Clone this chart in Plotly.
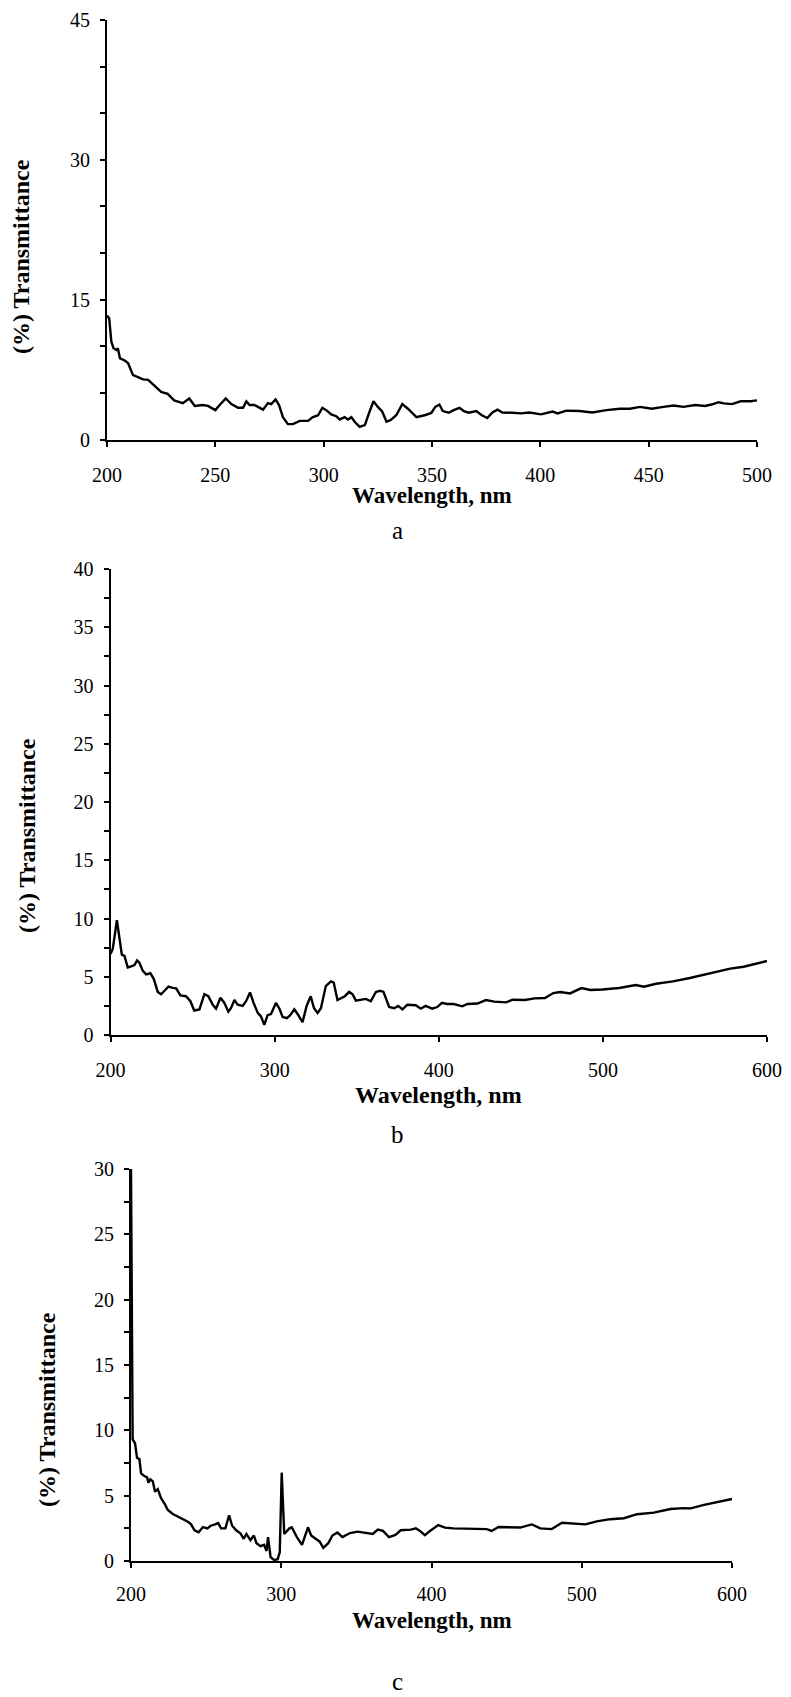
import plotly.graph_objects as go

# ---------------- data ----------------
wl_a = [200, 201, 202, 203, 204.3, 205, 206, 208, 209.7, 212, 214.3, 216.6, 219, 222, 225, 228,
        231, 235, 238, 240.5, 244, 246.6, 250, 252, 254.8, 257.4, 260.5, 262.8, 264.3, 265.8,
        268, 269.7, 272, 274.3, 275.8, 277.8, 279.4, 281.2, 283.5, 285.8, 289, 292.8, 295, 297.4,
        299.4, 301.2, 303.5, 305.8, 307.4, 309.7, 311.2, 312.8, 314.3, 316.6, 319, 321.2, 323,
        325, 327, 329, 331, 333.5, 336.3, 338.9, 341.2, 342.8, 346.6, 349.7, 351.5, 353.4, 355,
        357.7, 360, 362.7, 364.7, 367, 370.4, 373, 375.5, 377.9, 380.2, 382.5, 387, 391, 395,
        400.3, 405.7, 408, 412, 418, 424, 430.5, 436.7, 441.3, 446, 451.4, 456.8, 461.5, 466,
        471.5, 476, 479, 482.3, 484.7, 488.5, 492.4, 497, 500]
t_a = [13.3, 13.0, 10.5, 9.8, 9.6, 9.8, 8.7, 8.5, 8.2, 6.9, 6.7, 6.45, 6.4, 5.7, 5.1, 4.9,
       4.2, 3.9, 4.4, 3.6, 3.7, 3.6, 3.15, 3.7, 4.4, 3.8, 3.4, 3.4, 4.1, 3.7,
       3.7, 3.5, 3.2, 3.9, 3.8, 4.3, 3.7, 2.4, 1.65, 1.65, 2.0, 2.0, 2.4, 2.6,
       3.4, 3.15, 2.7, 2.5, 2.15, 2.4, 2.15, 2.4, 1.9, 1.35, 1.55, 3.0, 4.1,
       3.5, 3.0, 1.9, 2.1, 2.6, 3.8, 3.3, 2.8, 2.4, 2.6, 2.85, 3.5, 3.75, 3.05,
       2.87, 3.15, 3.4, 3.05, 2.87, 3.05, 2.6, 2.3, 2.9, 3.2, 2.9, 2.87, 2.8, 2.9,
       2.7, 3.0, 2.8, 3.1, 3.05, 2.9, 3.15, 3.3, 3.3, 3.5, 3.3, 3.5, 3.65, 3.5,
       3.7, 3.6, 3.75, 4.0, 3.87, 3.8, 4.1, 4.1, 4.2]

wl_b = [200, 201.4, 203.9, 205.5, 206.9, 208.5, 210.5, 212.6, 214.6, 216.2, 217.6, 219.7, 221.7,
        224.3, 226.4, 228.8, 230.8, 232.9, 235.3, 237.9, 240, 242.6, 246, 248.7, 251, 254.2,
        257.2, 259.6, 262.3, 264.3, 267, 269.4, 271.8, 273.4, 275.5, 277.5, 280.5, 282.6, 285,
        287.2, 289.7, 291.7, 293.7, 295.7, 297.8, 300.8, 302.8, 304.9, 307.5, 309.5, 312, 314,
        317, 319.5, 322, 324, 326.2, 328.2, 331.2, 334.3, 336, 338.3, 340.8, 342.8, 345.4,
        347.5, 349.5, 352.5, 355.6, 358.6, 361.7, 364.3, 366.3, 369.8, 372.8, 375.3, 377.9,
        380.9, 384, 386, 389, 392, 396, 399, 402, 405, 409, 414.4, 417.5, 423.6, 428.7, 433.9,
        441, 445, 452.4, 458.5, 464.7, 469.8, 474, 480, 486.9, 492.4, 499.6, 509.9, 520, 525,
        532.4, 542.7, 553, 563, 571.5, 577.6, 585.8, 593, 600]
t_b = [6.95, 7.4, 9.85, 8.4, 6.9, 6.8, 5.8, 5.9, 6.0, 6.4, 6.2, 5.5, 5.2,
       5.3, 4.8, 3.7, 3.5, 3.8, 4.15, 4.05, 4.0, 3.4, 3.33, 2.9, 2.1, 2.2,
       3.5, 3.33, 2.6, 2.26, 3.2, 2.75, 2.0, 2.3, 3.0, 2.6, 2.5, 2.9, 3.65,
       2.75, 1.9, 1.6, 0.87, 1.7, 1.8, 2.75, 2.3, 1.55, 1.45, 1.7, 2.2, 1.8,
       1.1, 2.5, 3.33, 2.3, 1.9, 2.3, 4.2, 4.6, 4.5, 3.0, 3.2, 3.33, 3.7,
       3.5, 2.95, 3.0, 3.1, 2.9, 3.7, 3.8, 3.7, 2.4, 2.3, 2.5, 2.2,
       2.6, 2.6, 2.55, 2.26, 2.5, 2.26, 2.4, 2.77, 2.66, 2.66, 2.46, 2.66, 2.7, 3.0, 2.86,
       2.8, 3.03, 3.0, 3.14, 3.17, 3.6, 3.69, 3.57, 4.03, 3.86, 3.9, 4.03, 4.29, 4.15,
       4.4, 4.6, 4.89, 5.23, 5.5, 5.7, 5.86, 6.09, 6.35]

wl_c = [200, 201.1, 202.7, 204, 205.6, 206.7, 208.9, 210.7, 211.6, 212.9, 214.5, 216, 217.8,
        220, 222.3, 224.5, 227.8, 231.2, 234.5, 237.9, 240, 242.3, 245, 247.9, 250.8, 253, 256,
        258, 260, 262.8, 265.3, 267.3, 270, 273, 275, 276.8, 279.5, 281.8, 283.5, 286.2, 288.6,
        290.2, 291.2, 292.9, 295.3, 297.6, 299, 300.3, 302, 305.4, 307, 310.4, 313.8, 317.8,
        319.9, 323.2, 325.6, 328, 331.3, 334, 337.4, 340.7, 345.8, 350.8, 355.9, 360.9, 364.3,
        367.7, 371.7, 376, 379.5, 386.2, 389.6, 392.3, 395.6, 399, 404.5, 409, 414.6, 425.7,
        436.8, 440, 444.6, 459, 466.8, 472.4, 480, 486.8, 495.7, 502.4, 510, 519, 528, 536.9,
        548, 559, 568, 572.5, 581.4, 590.3, 600]
t_c = [30.0, 9.3, 9.0, 7.9, 7.8, 6.7, 6.5, 6.4, 6.0, 6.25, 6.1, 5.3, 5.5,
       4.8, 4.4, 3.9, 3.6, 3.4, 3.2, 3.0, 2.8, 2.35, 2.2, 2.6, 2.5, 2.7, 2.8,
       2.9, 2.5, 2.5, 3.5, 2.7, 2.35, 2.1, 1.7, 2.07, 1.6, 1.95, 1.36, 1.13, 1.24,
       0.77, 1.83, 0.3, 0.07, 0.14, 0.66, 6.76, 2.07, 2.5, 2.58, 1.83, 1.24, 2.58,
       1.95, 1.7, 1.48, 1.0, 1.36, 1.95, 2.18, 1.83, 2.14, 2.25, 2.14, 2.07, 2.4,
       2.3, 1.83, 2.0, 2.35, 2.4, 2.5, 2.3, 1.97, 2.3, 2.75, 2.55, 2.5, 2.45,
       2.44, 2.3, 2.6, 2.56, 2.8, 2.5, 2.44, 2.93, 2.87, 2.8, 3.03, 3.2, 3.27, 3.58,
       3.7, 3.98, 4.05, 4.03, 4.29, 4.5, 4.75]

y_title = "(%) Transmittance"
x_title = "Wavelength, nm"
panel_labels = ["a", "b", "c"]

# ---------------- layout helpers ----------------
W, H = 791, 1697
FONT = "Liberation Serif, Times New Roman, serif"


def px_x(v):
    return v / W


def px_y(v):
    return 1 - v / H


fig = go.Figure()

panels = [
    # (x data, y data, x-pixel domain, y-pixel domain, xrange, yrange, xdtick, ydtick, yminor)
    (wl_a, t_a, (107, 757), (20, 439.5), [200, 500], [0, 45], 50, 15, 5),
    (wl_b, t_b, (110.5, 767), (569, 1035), [200, 600], [0, 40], 100, 5, 2.5),
    (wl_c, t_c, (131, 732), (1169, 1561), [200, 600], [0, 30], 100, 5, 2.5),
]

title_pos = [
    # (x-title y, panel letter y, y-title x, y-title center y, x-title size, y-title size)
    (496, 530, 21, 257, 23, 24),
    (1095, 1134, 27, 836, 24, 24),
    (1620, 1681, 47, 1410, 23, 24),
]

for i, (xs, ys, xd, yd, xr, yr, xdt, ydt, ymin) in enumerate(panels):
    n = "" if i == 0 else str(i + 1)
    fig.add_trace(go.Scatter(x=xs, y=ys, mode="lines",
                             line=dict(color="black", width=2.4),
                             xaxis="x" + n, yaxis="y" + n, showlegend=False))
    common = dict(showgrid=False, zeroline=False, showline=True, linecolor="black",
                  linewidth=2, ticks="outside", tickcolor="black", tickwidth=1.5, ticklen=5,
                  automargin=False,
                  tickfont=dict(family=FONT, size=20, color="black"))
    fig.layout["xaxis" + n] = dict(domain=[px_x(xd[0]), px_x(xd[1])], range=xr, dtick=xdt,
                                   tick0=xr[0], anchor="y" + n,
                                   ticklabelstandoff=9 if i == 2 else 11, **common)
    fig.layout["yaxis" + n] = dict(domain=[px_y(yd[1]), px_y(yd[0])], range=yr, dtick=ydt,
                                   tick0=0, anchor="x" + n, ticklabelstandoff=6,
                                   minor=dict(dtick=ymin, ticks="outside", ticklen=5,
                                              tickcolor="black", tickwidth=1.5),
                                   **common)
    xt_y, lab_y, yt_x, yt_y, xts, yts = title_pos[i]
    cx = (xd[0] + xd[1]) / 2
    fig.add_annotation(x=px_x(cx), y=px_y(xt_y), xref="paper", yref="paper",
                       text="<b>" + x_title + "</b>", showarrow=False,
                       font=dict(family=FONT, size=xts, color="black"),
                       xanchor="center", yanchor="middle")
    fig.add_annotation(x=px_x(397), y=px_y(lab_y), xref="paper", yref="paper",
                       text=panel_labels[i], showarrow=False,
                       font=dict(family=FONT, size=25, color="black"),
                       xanchor="center", yanchor="middle")
    fig.add_annotation(x=px_x(yt_x), y=px_y(yt_y), xref="paper", yref="paper",
                       text="<b>" + y_title + "</b>", showarrow=False, textangle=-90,
                       font=dict(family=FONT, size=yts, color="black"),
                       xanchor="center", yanchor="middle")

fig.update_layout(template="none", width=W, height=H, margin=dict(l=0, r=0, t=0, b=0),
                  paper_bgcolor="white", plot_bgcolor="white")

fig.write_html("out.html")
